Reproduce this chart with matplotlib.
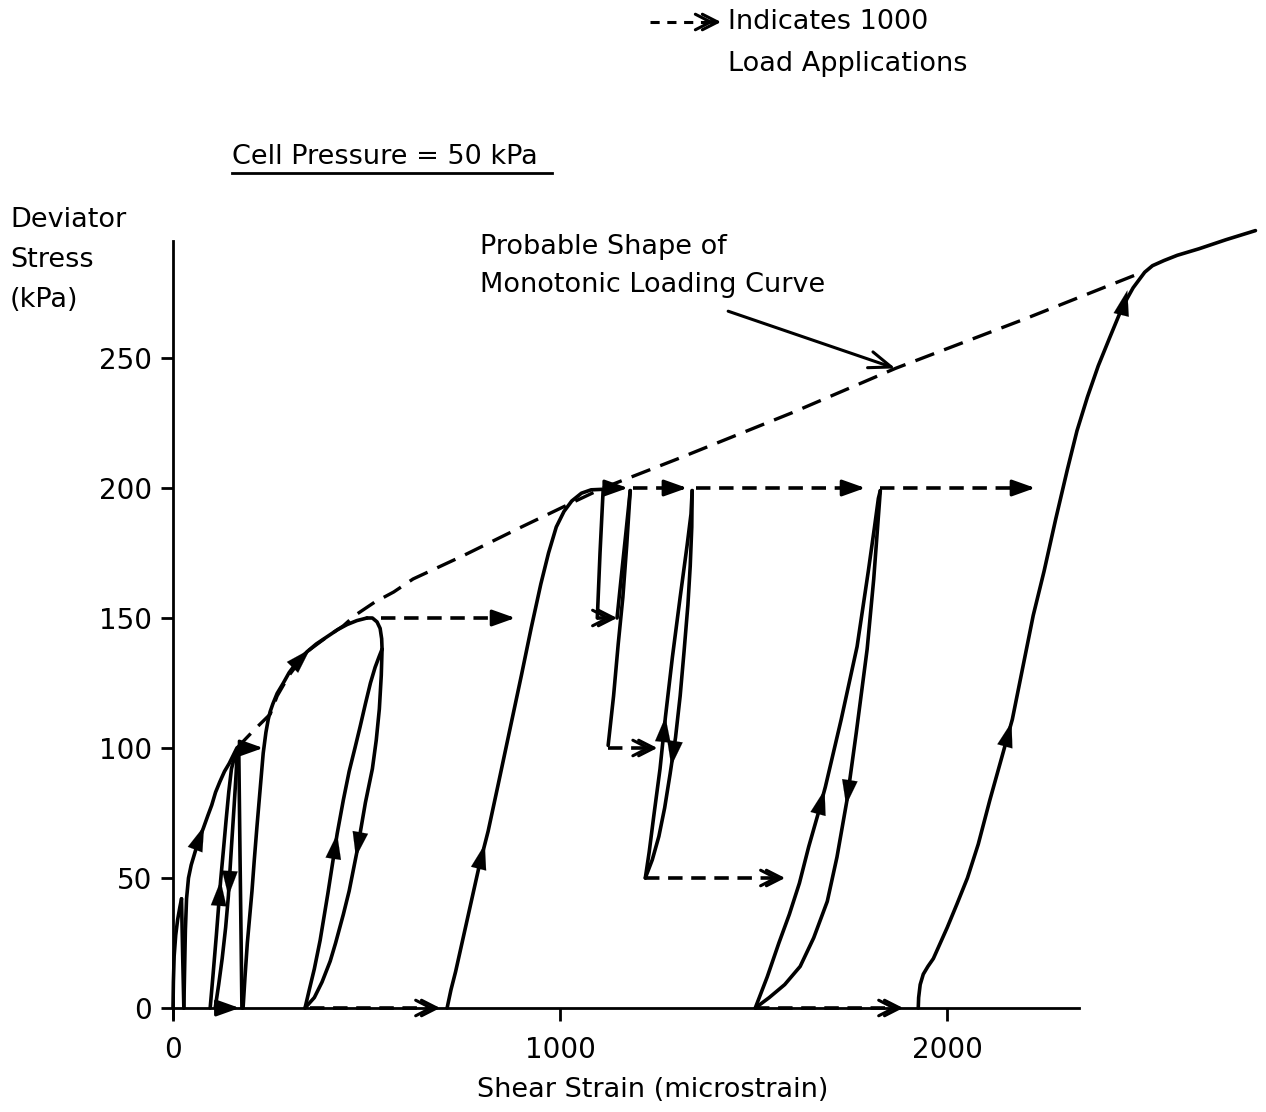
import numpy as np
import matplotlib.pyplot as plt

plt.rcParams['font.family'] = ['DejaVu Sans']

# Probable monotonic loading curve (dashed envelope), strain in microstrain, stress in kPa
env_strain = [165, 210, 251, 269, 300, 346, 400, 440, 470, 520, 570, 620, 750, 900, 1040, 1111, 1300, 1600, 1866, 2200, 2504]
env_stress = [100, 107, 113, 120, 128, 137, 143, 147, 151, 156, 160, 165, 174, 185, 195, 200, 211, 229, 246, 265, 283]

# First loading to 100 kPa
load0_strain = [0, 1, 3, 7, 12, 18, 22]
load0_stress = [0, 10, 20, 28, 34, 39, 42]
drop0_strain = [22, 25, 28]
drop0_stress = [42, 20, 0]
load1_strain = [28, 30, 32, 35, 40, 47, 55, 65, 78, 90, 100, 110, 121, 133, 145, 155, 165]
load1_stress = [0, 15, 30, 42, 50, 55, 59, 64, 69, 74, 78, 83, 87, 91, 94, 97, 100]

# Cycles between 0 and 100 kPa
unload1_strain = [166, 163, 158, 151, 143, 136, 127, 118, 109]
unload1_stress = [99, 90, 78, 62, 43, 31, 19, 9, 0]
reload1_strain = [96, 103, 112, 123, 131, 137, 144, 151, 158, 166]
reload1_stress = [0, 12, 28, 49, 62, 72, 83, 92, 96, 99]
unload1b_strain = [170, 173, 176, 178]
unload1b_stress = [98, 60, 25, 0]

# Loading to 150 kPa
load2_strain = [181, 186, 192, 198, 204, 210, 217, 225, 233, 240, 246, 251, 258, 269, 285, 300, 320, 346, 370, 400, 425, 450, 475, 501]
load2_stress = [0, 12, 25, 35, 45, 57, 70, 84, 98, 106, 111, 114, 117, 121, 125, 129, 133, 137, 140, 143, 145.5, 147.5, 149, 150]
top2_strain = [501, 515, 527, 535, 539, 540]
top2_stress = [150, 150, 148.5, 146, 142, 138]

# Cycles between 0 and 150 kPa
unload2_strain = [540, 538, 533, 525, 515, 497, 475, 455, 440, 420, 406, 385, 365, 341]
unload2_stress = [138, 128, 115, 103, 92, 79, 60, 45, 36, 25, 18, 10, 4, 0]
reload2_strain = [341, 352, 365, 380, 400, 424, 440, 455, 470, 483, 497, 510, 522, 532, 540]
reload2_stress = [0, 7, 15, 26, 44, 67, 80, 91, 100, 108, 117, 125, 131, 135, 138]

# Loading to 200 kPa
load3_strain = [708, 718, 730, 745, 760, 775, 790, 814, 840, 870, 900, 925, 950, 970, 990, 1010, 1030, 1055, 1080, 1111]
load3_stress = [0, 7, 14, 24, 34, 44, 54, 68, 86, 107, 128, 146, 163, 175, 185, 191, 195, 198, 199.3, 199.5]

# Cycles between 150 and 200 kPa, then 100 and 200 kPa
drop3_strain = [1111, 1103, 1096]
drop3_stress = [199, 175, 150]
reload3_strain = [1147, 1158, 1170, 1181]
reload3_stress = [150, 166, 183, 199]
unload3_strain = [1181, 1172, 1162, 1150, 1138, 1124]
unload3_stress = [199, 178, 158, 140, 120, 101]

# Cycles between 50 and 200 kPa
up4_strain = [1220, 1230, 1242, 1258, 1272, 1290, 1310, 1328, 1338, 1341]
up4_stress = [50, 60, 74, 92, 112, 135, 158, 178, 190, 199]
down4_strain = [1341, 1340, 1336, 1330, 1320, 1310, 1298, 1284, 1270, 1255, 1238, 1220]
down4_stress = [199, 185, 170, 155, 137, 120, 104, 90, 77, 66, 57, 50]

# Cycles between 0 and 200 kPa
up5_strain = [1504, 1535, 1565, 1592, 1618, 1642, 1665, 1685, 1726, 1767, 1796, 1812, 1822, 1827]
up5_stress = [0, 12, 25, 36, 48, 62, 74, 85, 111, 139, 168, 185, 196, 199]
down5_strain = [1827, 1820, 1810, 1793, 1765, 1741, 1715, 1690, 1655, 1620, 1580, 1540, 1504]
down5_stress = [199, 185, 165, 138, 106, 80, 58, 41, 27, 16, 9, 4, 0]

# Final loading to failure
fin_strain = [1925, 1926, 1930, 1938, 1950, 1964, 1985, 2000, 2025, 2052, 2080, 2110, 2140, 2168, 2195, 2222, 2250, 2280,
              2310, 2335, 2362, 2390, 2420, 2445, 2465, 2480, 2495, 2510, 2530, 2560, 2594, 2650, 2720, 2796]
fin_stress = [0, 4, 9, 13, 16, 19, 26, 31, 40, 50, 63, 80, 96, 111, 131, 151, 168, 188,
              207, 222, 235, 247, 258, 267, 273, 277, 280, 283, 285.5, 287.5, 289.5, 292, 295.5, 299]

# Permanent strain shifts after 1000 load applications: start, end, stress level
shift_start = [170, 112, 537, 354, 1111, 1096, 1189, 1124, 1220, 1350, 1504, 1827]
shift_end = [233, 172, 884, 690, 1175, 1147, 1328, 1251, 1581, 1788, 1886, 2227]
shift_stress = [100, 0, 150, 0, 200, 150, 200, 100, 50, 200, 0, 200]
shift_double = [False, False, False, True, False, True, False, True, True, False, True, False]

W, H = 1266, 1112
fig = plt.figure(figsize=(W / 100, H / 100), dpi=100)
ax = fig.add_axes([173 / W, 104 / H, 1084 / W, 780 / H])
ax.set_xlim(0, 2800)
ax.set_ylim(0, 300)

LW = 2.6


def fx(px):
    return px / W


def fy(py):
    return 1 - py / H


def solid(xs, ys):
    ax.plot(xs, ys, color='k', lw=LW, solid_capstyle='round', solid_joinstyle='round', clip_on=False)


def mid_arrow(xs, ys, at, up=True):
    xs = np.asarray(xs, float)
    ys = np.asarray(ys, float)
    order = np.argsort(ys)
    d = 6 if up else -6
    x0 = np.interp(at - d, ys[order], xs[order])
    x1 = np.interp(at, ys[order], xs[order])
    ax.annotate('', xy=(x1, at), xytext=(x0, at - d),
                arrowprops=dict(arrowstyle='-|>,head_length=0.9,head_width=0.28',
                                color='k', lw=0.1, shrinkA=0, shrinkB=0,
                                mutation_scale=20))


def chevron(tip, tail, coords='data', filled=False):
    style = '-|>,head_length=0.7,head_width=0.25' if filled else '->,head_length=0.55,head_width=0.28'
    ax.annotate('', xy=tip, xytext=tail, xycoords=coords, textcoords=coords,
                arrowprops=dict(arrowstyle=style, color='k', lw=2.2,
                                shrinkA=0, shrinkB=0, mutation_scale=20))


def shift(x0, x1, y, double):
    ax.plot([x0, x1 - 10], [y, y], color='k', lw=2.6, ls=(0, (4, 2.4)), clip_on=False, zorder=3)
    if double:
        chevron((x1, y), (x1 - 28, y))
        chevron((x1 - 15, y), (x1 - 17, y))
    else:
        chevron((x1, y), (x1 - 28, y), filled=True)


# envelope
ax.plot(env_strain, env_stress, color='k', lw=2.4, ls=(0, (6, 3.2)), clip_on=False)

# stress-strain paths
for xs, ys in [(load0_strain, load0_stress), (drop0_strain, drop0_stress),
               (load1_strain, load1_stress), (unload1_strain, unload1_stress),
               (reload1_strain, reload1_stress), (unload1b_strain, unload1b_stress),
               (load2_strain, load2_stress), (top2_strain, top2_stress),
               (unload2_strain, unload2_stress), (reload2_strain, reload2_stress),
               (load3_strain, load3_stress), (drop3_strain, drop3_stress),
               (reload3_strain, reload3_stress), (unload3_strain, unload3_stress),
               (up4_strain, up4_stress), (down4_strain, down4_stress),
               (up5_strain, up5_stress), (down5_strain, down5_stress),
               (fin_strain, fin_stress)]:
    solid(xs, ys)

# loading / unloading direction arrows
mid_arrow(load1_strain, load1_stress, 70)
mid_arrow(reload1_strain, reload1_stress, 49)
mid_arrow(unload1_strain, unload1_stress, 43, up=False)
mid_arrow(load2_strain, load2_stress, 138)
mid_arrow(reload2_strain, reload2_stress, 67)
mid_arrow(unload2_strain, unload2_stress, 58, up=False)
mid_arrow(load3_strain[:-2], load3_stress[:-2], 63)
mid_arrow(up4_strain, up4_stress, 112)
mid_arrow(down4_strain, down4_stress, 93, up=False)
mid_arrow(up5_strain, up5_stress, 84)
mid_arrow(down5_strain, down5_stress, 78, up=False)
mid_arrow(fin_strain, fin_stress, 110)
mid_arrow(fin_strain[:25], fin_stress[:25], 276)

for x0, x1, y, dbl in zip(shift_start, shift_end, shift_stress, shift_double):
    shift(x0, x1, y, dbl)

# axes styling
for s in ['top', 'right']:
    ax.spines[s].set_visible(False)
ax.spines['left'].set_bounds(-4, 295)
ax.spines['bottom'].set_bounds(0, 2340)
for s in ['left', 'bottom']:
    ax.spines[s].set_linewidth(2.0)
ax.set_xticks([0, 1000, 2000])
ax.set_yticks([0, 50, 100, 150, 200, 250])
ax.tick_params(axis='both', direction='out', length=9, width=2.0, labelsize=20)
ax.tick_params(axis='y', pad=6)
ax.tick_params(axis='x', pad=11)

# annotation pointing at the envelope
tip_x = 1866
tip_y = np.interp(tip_x, env_strain, env_stress)
ax.annotate('', xy=(tip_x, tip_y), xytext=(1434, 268),
            arrowprops=dict(arrowstyle='->,head_length=0.8,head_width=0.3',
                            color='k', lw=2.2, shrinkA=0, shrinkB=0, mutation_scale=20))

fs = 19.5
fig.text(fx(480), fy(247), 'Probable Shape of', fontsize=fs, va='center')
fig.text(fx(480), fy(285), 'Monotonic Loading Curve', fontsize=fs, va='center')
fig.text(fx(10), fy(220), 'Deviator', fontsize=fs, va='center')
fig.text(fx(10), fy(260), 'Stress', fontsize=fs, va='center')
fig.text(fx(10), fy(300), '(kPa)', fontsize=fs, va='center')
fig.text(fx(653), fy(1090), 'Shear Strain (microstrain)', fontsize=fs, ha='center', va='center')
fig.text(fx(232), fy(157), 'Cell Pressure = 50 kPa', fontsize=fs, va='center')
ax.plot([fx(232), fx(552)], [fy(173), fy(173)], color='k', lw=2.0,
        transform=fig.transFigure, clip_on=False)

# key for the dashed shift arrows
fig.text(fx(728), fy(22), 'Indicates 1000', fontsize=fs, va='center')
fig.text(fx(728), fy(64), 'Load Applications', fontsize=fs, va='center')
ax.plot([fx(650), fx(708)], [fy(22), fy(22)], color='k', lw=2.2, ls=(0, (3, 2.5)),
        transform=fig.transFigure, clip_on=False)
chevron((fx(721), fy(22)), (fx(705), fy(22)), coords='figure fraction')
chevron((fx(714), fy(22)), (fx(712), fy(22)), coords='figure fraction')

fig.savefig('out.png', dpi=100)
